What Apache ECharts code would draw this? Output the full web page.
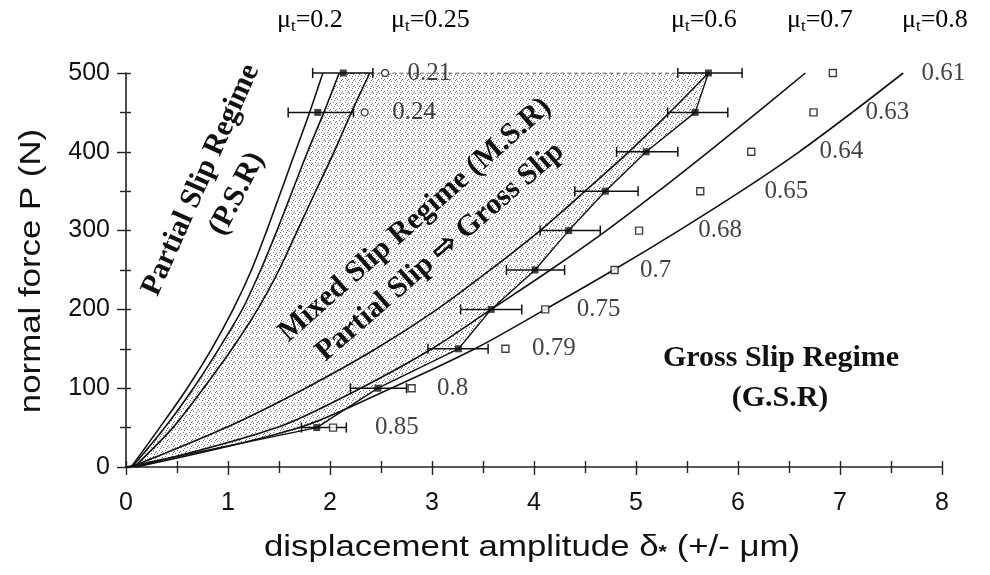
<!DOCTYPE html>
<html>
<head>
<meta charset="utf-8">
<script src="https://cdn.jsdelivr.net/npm/echarts@6/dist/echarts.min.js"></script>
<style>
html, body { margin: 0; padding: 0; background: #fff; }
#chart { width: 990px; height: 575px; }
</style>
</head>
<body>
<div id="chart"></div>
<script>
// normal force levels (N)
const pLevels = [0, 50, 100, 150, 200, 250, 300, 350, 400, 450, 500];

// transition curves, displacement read at each force level
const psrLeft = [0.05, 0.33, 0.60, 0.84, 1.05, 1.23, 1.38, 1.52, 1.66, 1.80, 1.93];
const psrMid = [0.06, 0.38, 0.66, 0.91, 1.14, 1.32, 1.48, 1.63, 1.78, 1.94, 2.09];
const psrRight = [0.08, 0.46, 0.76, 1.04, 1.29, 1.50, 1.68, 1.86, 2.04, 2.21, 2.39];
const mu06 = [0.05, 0.98, 1.76, 2.45, 3.05, 3.57, 4.06, 4.50, 4.93, 5.33, 5.71];
const mu07 = [0.08, 1.48, 2.30, 3.00, 3.58, 4.16, 4.71, 5.22, 5.71, 6.19, 6.66];
const mu08 = [0.10, 1.70, 2.60, 3.42, 4.11, 4.78, 5.42, 6.03, 6.60, 7.12, 7.62];

// measured transition points (filled squares) with scatter
const expP = [0, 50, 100, 150, 200, 250, 300, 350, 400, 450, 500];
const expX = [0, 1.87, 2.47, 3.26, 3.58, 4.01, 4.34, 4.70, 5.10, 5.58, 5.71];
const expLow = [null, 1.72, 2.20, 2.96, 3.28, 3.73, 4.06, 4.40, 4.81, 5.31, 5.41];
const expHigh = [null, 2.16, 2.75, 3.55, 3.88, 4.30, 4.65, 5.02, 5.41, 5.90, 6.04];

// partial slip limit points
const psrP = [450, 500];
const psrX = [1.88, 2.13];
const psrLow = [1.59, 1.83];
const psrHigh = [2.23, 2.42];

// friction coefficient points (open squares / circles)
const gsP = [50, 100, 150, 200, 250, 300, 350, 400, 450, 500];
const gsX = [2.03, 2.80, 3.72, 4.11, 4.79, 5.03, 5.63, 6.13, 6.74, 6.93];
const gsMu = ['0.85', '0.8', '0.79', '0.75', '0.7', '0.68', '0.65', '0.64', '0.63', '0.61'];
const psrCircP = [450, 500];
const psrCircX = [2.34, 2.54];
const psrMuVals = ['0.24', '0.21'];

// where the coefficient labels sit (x, in µm)
const gsLabelX = [2.44, 3.05, 3.98, 4.42, 5.04, 5.61, 6.26, 6.80, 7.25, 7.80];
const psrLabelX = [2.61, 2.76];

const serif = '"Liberation Serif", "Times New Roman", serif';
const sans = '"Liberation Sans", Arial, sans-serif';
const ink = '#111';

const chart = echarts.init(document.getElementById('chart'));

// stipple for the mixed slip area
const dots = document.createElement('canvas');
dots.width = 6;
dots.height = 6;
const dctx = dots.getContext('2d');
dctx.fillStyle = 'rgba(60,60,60,0.7)';
[[0, 1], [3, 0], [4, 4], [1, 3], [5, 2]].forEach(d => dctx.fillRect(d[0], d[1], 1, 1));

const pairs = (xs, ys) => xs.map((x, i) => [x, ys[i]]);

const curve = (name, xs) => ({
    name,
    type: 'line',
    data: pairs(xs, pLevels),
    smooth: 0.3,
    symbol: 'none',
    lineStyle: { color: ink, width: 1.6 },
    z: 4,
});

const errorBars = (ps, lo, hi) => ({
    type: 'custom',
    data: ps.map((p, i) => [p, lo[i], hi[i]]).filter(d => d[1] != null),
    encode: { x: [1, 2], y: 0 },
    renderItem: (params, api) => {
        const a = api.coord([api.value(1), api.value(0)]);
        const b = api.coord([api.value(2), api.value(0)]);
        const st = { stroke: ink, lineWidth: 1.5 };
        return {
            type: 'group',
            children: [
                { type: 'line', shape: { x1: a[0], y1: a[1], x2: b[0], y2: b[1] }, style: st },
                { type: 'line', shape: { x1: a[0], y1: a[1] - 5, x2: a[0], y2: a[1] + 5 }, style: st },
                { type: 'line', shape: { x1: b[0], y1: b[1] - 5, x2: b[0], y2: b[1] + 5 }, style: st },
            ],
        };
    },
    z: 5,
});

const valueLabels = (xs, ps, texts) => ({
    type: 'scatter',
    data: pairs(xs, ps),
    symbolSize: 0,
    silent: true,
    label: {
        show: true,
        position: 'right',
        distance: 0,
        formatter: p => texts[p.dataIndex],
        fontFamily: serif,
        fontSize: 25,
        color: ink,
    },
    z: 6,
});

const topLabel = (left, val) => ({
    type: 'text',
    left,
    top: 6,
    style: {
        text: '{m|μ}{s|t}{m|=' + val + '}',
        rich: {
            m: { fontFamily: serif, fontSize: 26, color: ink, lineHeight: 30 },
            s: { fontFamily: serif, fontSize: 17, color: ink, lineHeight: 30, verticalAlign: 'bottom', padding: [12, 0, 0, 0] },
        },
    },
});

const rotLabel = (x, y, deg, text) => ({
    type: 'text',
    x,
    y,
    rotation: deg * Math.PI / 180,
    style: {
        text,
        font: 'bold 30px ' + serif,
        fill: ink,
        align: 'center',
        verticalAlign: 'middle',
    },
    z: 10,
});

// axis titles are drawn a little wider than the font, as in the scan
const axisTitle = (x, y, deg, text, rich) => ({
    type: 'text',
    x,
    y,
    rotation: deg * Math.PI / 180,
    scaleX: 1.2,
    style: {
        text,
        fontFamily: sans,
        fontSize: 29,
        fill: ink,
        align: 'center',
        verticalAlign: 'middle',
        rich,
    },
});

const tickStyle = { color: '#222', width: 1.4 };

const option = {
    animation: false,
    backgroundColor: '#fff',
    grid: { left: 126, right: 48, top: 73, bottom: 108 },
    xAxis: [
        {
            type: 'value',
            min: 0,
            max: 8,
            interval: 1,
            axisLine: { onZero: false, lineStyle: { color: '#222', width: 1.6 } },
            axisTick: { length: 8, lineStyle: tickStyle },
            minorTick: { show: true, splitNumber: 2, length: 6, lineStyle: tickStyle },
            splitLine: { show: false },
            axisLabel: { margin: 24, fontFamily: sans, fontSize: 25, color: ink },
        },
        {
            type: 'value',
            min: 0,
            max: 8,
            interval: 0.5,
            position: 'bottom',
            axisLine: { show: false },
            axisTick: { inside: true, length: 6, lineStyle: tickStyle },
            axisLabel: { show: false },
            splitLine: { show: false },
        },
    ],
    yAxis: [
        {
            type: 'value',
            min: 0,
            max: 500,
            interval: 100,
            axisLine: { show: true, onZero: false, lineStyle: { color: '#222', width: 1.6 } },
            axisTick: { show: true, length: 9, lineStyle: tickStyle },
            minorTick: { show: true, splitNumber: 2, length: 6, lineStyle: tickStyle },
            splitLine: { show: false },
            axisLabel: { margin: 16, fontFamily: sans, fontSize: 25, color: ink },
        },
        {
            type: 'value',
            min: 0,
            max: 500,
            interval: 50,
            position: 'left',
            axisLine: { show: false },
            axisTick: { show: true, inside: true, length: 5, lineStyle: tickStyle },
            axisLabel: { show: false },
            splitLine: { show: false },
        },
    ],
    graphic: [
        topLabel(277, '0.2'),
        topLabel(391, '0.25'),
        topLabel(671, '0.6'),
        topLabel(787, '0.7'),
        topLabel(902, '0.8'),
        rotLabel(201, 180, 66, 'Partial Slip Regime'),
        rotLabel(237, 194, 63, '(P.S.R)'),
        rotLabel(415, 220, 41.5, 'Mixed Slip Regime (M.S.R)'),
        rotLabel(440, 252, 41, 'Partial Slip \u21E8 Gross Slip'),
        rotLabel(781, 358, 0, 'Gross Slip Regime'),
        rotLabel(780, 398, 0, '(G.S.R)'),
        axisTitle(532, 548, 0, 'displacement amplitude δ{s|*} (+/- μm)', {
            s: { fontFamily: sans, fontSize: 18, fontWeight: 'bold', fill: ink, verticalAlign: 'bottom', padding: [10, 0, 0, 0] },
        }),
        axisTitle(32, 271, 90, 'normal force P (N)'),
    ],
    series: [
        {
            // mixed slip regime area, between the partial slip limit and the measured transition
            type: 'custom',
            data: [0],
            silent: true,
            renderItem: (params, api) => {
                const pts = [];
                psrMid.forEach((x, i) => pts.push(api.coord([x, pLevels[i]])));
                for (let i = expX.length - 1; i >= 0; i--) pts.push(api.coord([expX[i], expP[i]]));
                return {
                    type: 'polygon',
                    shape: { points: pts, smooth: 0 },
                    style: { fill: { image: dots, repeat: 'repeat' } },
                };
            },
            z: 1,
        },
        {
            type: 'line',
            data: [[psrX[1], 500], [expX[expX.length - 1], 500]],
            symbol: 'none',
            lineStyle: { color: '#333', width: 1, type: [4, 3] },
            z: 3,
        },
        curve('psrLeft', psrLeft),
        curve('psrMid', psrMid),
        curve('psrRight', psrRight),
        curve('mu06', mu06),
        curve('mu07', mu07),
        curve('mu08', mu08),
        {
            type: 'line',
            data: pairs(expX, expP),
            symbol: 'none',
            lineStyle: { color: ink, width: 1.4 },
            z: 4,
        },
        errorBars(expP, expLow, expHigh),
        errorBars(psrP, psrLow, psrHigh),
        {
            type: 'scatter',
            data: pairs(expX, expP).slice(1).concat(pairs(psrX, psrP)),
            symbol: 'rect',
            symbolSize: 7,
            itemStyle: { color: ink },
            z: 6,
        },
        {
            type: 'scatter',
            data: pairs(gsX, gsP),
            symbol: 'rect',
            symbolSize: 7,
            itemStyle: { color: '#fff', borderColor: ink, borderWidth: 1.4 },
            z: 6,
        },
        {
            type: 'scatter',
            data: pairs(psrCircX, psrCircP),
            symbol: 'circle',
            symbolSize: 7,
            itemStyle: { color: '#fff', borderColor: ink, borderWidth: 1.3 },
            z: 6,
        },
        valueLabels(gsLabelX, gsP, gsMu),
        valueLabels(psrLabelX, psrCircP, psrMuVals),
    ],
};

chart.setOption(option);
</script>
</body>
</html>
